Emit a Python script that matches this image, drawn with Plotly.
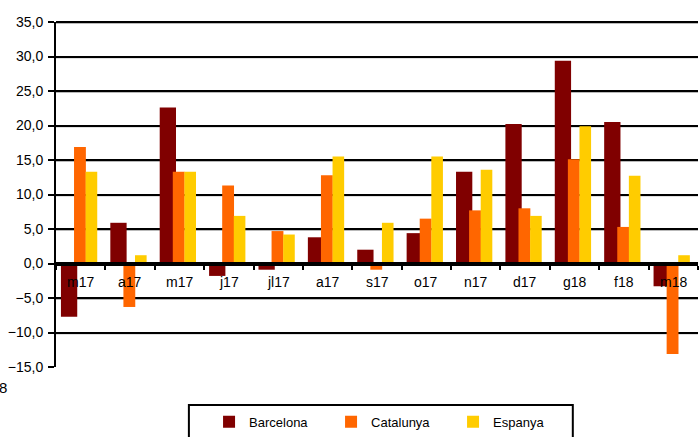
import plotly.graph_objects as go

categories = ["m17", "a17", "m17 ", "j17", "jl17", "a17 ", "s17", "o17", "n17", "d17", "g18", "f18", "m18"]
tick_labels = ["m17", "a17", "m17", "j17", "jl17", "a17", "s17", "o17", "n17", "d17", "g18", "f18", "m18"]
barcelona = [-7.7, 5.9, 22.6, -1.8, -0.9, 3.8, 2.0, 4.4, 13.3, 20.2, 29.4, 20.5, -3.3]
catalunya = [16.9, -6.3, 13.3, 11.3, 4.7, 12.8, -0.9, 6.5, 7.7, 8.0, 15.1, 5.3, -13.1]
espanya = [13.3, 1.2, 13.3, 6.9, 4.2, 15.5, 5.9, 15.5, 13.6, 6.9, 19.9, 12.7, 1.2]
y_ticks = [-15, -10, -5, 0, 5, 10, 15, 20, 25, 30, 35]

FONT = "Liberation Sans, Arial, sans-serif"

fig = go.Figure()
fig.add_trace(go.Bar(name="Barcelona", x=categories, y=barcelona, marker_color="#800000",
                     offset=-0.40, width=0.33, marker_line_width=0))
fig.add_trace(go.Bar(name="Catalunya", x=categories, y=catalunya, marker_color="#FF6600",
                     offset=-0.135, width=0.24, marker_line_width=0))
fig.add_trace(go.Bar(name="Espanya", x=categories, y=espanya, marker_color="#FFCC00",
                     offset=0.10, width=0.235, marker_line_width=0))

for cat, lab in zip(categories, tick_labels):
    fig.add_annotation(x=cat, y=-2.75, xref="x", yref="y", text=lab, showarrow=False,
                       font=dict(family=FONT, size=14, color="black"), yanchor="middle")

# gridline shadows
for v in y_ticks:
    if v != 0:
        fig.add_shape(type="line", xref="paper", yref="y", x0=0, x1=1, y0=v - 0.2, y1=v - 0.2,
                      line=dict(color="#b0b0b0", width=1), layer="below")
# top gridline (at range edge, not clipped)
fig.add_shape(type="line", xref="paper", yref="paper", x0=0, x1=1, y0=1, y1=1,
              line=dict(color="black", width=2))

# stray clipped text at left
fig.add_annotation(x=-0.0732, y=-0.058, xref="paper", yref="paper", text="8", showarrow=False,
                   xanchor="right", yanchor="middle", font=dict(family=FONT, size=15, color="black"))

# legend box
fig.add_shape(type="rect", xref="paper", yref="paper", x0=0.207, x1=0.805, y0=-0.110, y1=-0.24,
              line=dict(color="black", width=2), fillcolor="rgba(0,0,0,0)")

fig.update_layout(
    width=699, height=437,
    margin=dict(l=56, r=1, t=22, b=70, autoexpand=False),
    paper_bgcolor="white", plot_bgcolor="white",
    barmode="overlay",
    separators=",.",
    font=dict(family=FONT, size=14, color="black"),
    showlegend=True,
    legend=dict(orientation="h", x=0.2384, xanchor="left", y=-0.159, yanchor="middle",
                bgcolor="rgba(0,0,0,0)", borderwidth=0,
                font=dict(family=FONT, size=13, color="black"),
                entrywidth=77, entrywidthmode="pixels", traceorder="normal"),
    xaxis=dict(type="category", anchor="free", position=0.3, showline=True, linecolor="black",
               linewidth=4, ticks="outside", tickson="boundaries", ticklen=4, tickwidth=2,
               tickcolor="black", showticklabels=False, showgrid=False, zeroline=False,
               range=[-0.5, 12.5], fixedrange=True, automargin=False),
    yaxis=dict(range=[-15, 35], tickvals=y_ticks, tickformat=".1f", showgrid=True,
               gridcolor="black", gridwidth=2, zeroline=True, zerolinecolor="black",
               zerolinewidth=4, showline=True, linecolor="black", linewidth=2,
               ticks="outside", ticklen=6, tickwidth=2, tickcolor="black", automargin=False,
               ticklabelstandoff=2, tickfont=dict(family=FONT, size=14, color="black")),
)

fig.write_html("out.html", config={"displayModeBar": False},
               post_script="document.body.style.margin='0';document.body.style.overflow='hidden';")
